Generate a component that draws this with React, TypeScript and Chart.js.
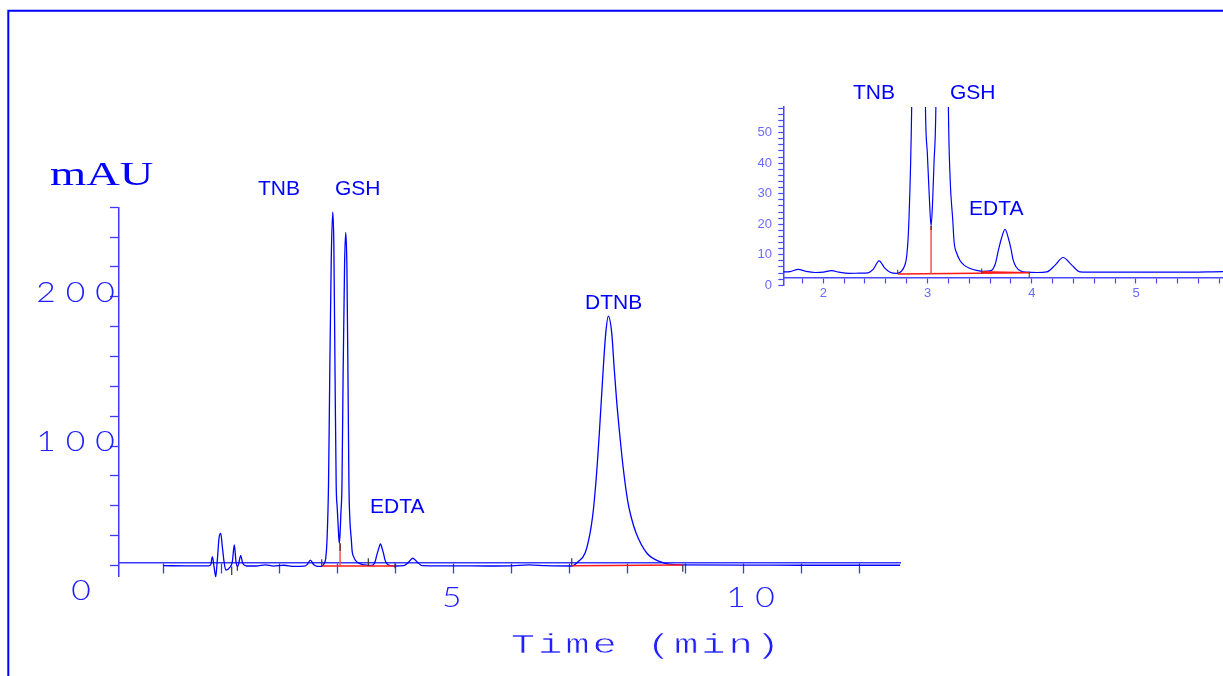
import React, { useEffect, useRef } from 'react';
import { Chart, registerables } from 'chart.js';

Chart.register(...registerables);

// ---------------- Main chromatogram (time in min, signal as on main axis) ----------------
const mainTime = [
  0.0, 0.4, 0.78, 0.817, 0.845, 0.874, 0.903, 0.931, 0.96, 0.99, 1.017, 1.047, 1.076, 1.15,
  1.19, 1.224, 1.253, 1.283, 1.334, 1.369, 1.44, 1.6, 1.76, 1.9, 2.08, 2.25, 2.43, 2.48,
  2.535, 2.59, 2.64, 2.7, 2.75, 2.78, 2.8, 2.82, 2.848, 2.87, 2.895, 2.921, 2.94, 2.96, 2.98,
  2.998, 3.017, 3.034, 3.047, 3.062, 3.08, 3.1, 3.125, 3.145, 3.165, 3.185, 3.2, 3.216, 3.242,
  3.255, 3.28, 3.31, 3.35, 3.41, 3.47, 3.535, 3.6, 3.65, 3.68, 3.71, 3.744, 3.775, 3.8, 3.82,
  3.85, 3.9, 4.0, 4.144, 4.224, 4.3, 4.384, 4.464, 4.6, 5.0, 5.6, 6.0, 6.3, 6.6, 7.04, 7.15,
  7.271, 7.357, 7.4, 7.431, 7.478, 7.517, 7.586, 7.627, 7.672, 7.731, 7.771, 7.814, 7.866,
  7.926, 8.003, 8.064, 8.15, 8.334, 8.564, 8.9, 10.0, 11.0, 12.7,
];
const mainSignal = [
  19.8, 19.7, 19.7, 20.3, 25.9, 19.2, 12.6, 23.6, 38.2, 41.5, 32.6, 22.5, 16.9, 18.8,
  22.5, 33.7, 22.5, 19.2, 26.5, 21.4, 19.6, 19.6, 20.4, 19.5, 20.1, 19.3, 19.5, 20.5,
  23.6, 20.6, 19.5, 19.3, 20.0, 21.8, 24.8, 35.3, 74, 150, 225, 256.9, 235, 150, 74,
  58.7, 44.4, 34.8, 41.4, 55.4, 74, 150, 222, 243.1, 220, 140, 74, 51, 36.8,
  29.6, 25.9, 23.6, 22.0, 20.9, 20.3, 20.0, 20.0, 22.4, 26.9, 30.9, 34.4, 30.9, 27.4, 23.9,
  21.4, 20.0, 19.6, 19.8, 22.0, 24.8, 22.0, 19.8, 19.7, 19.7, 19.6, 19.7, 20.3, 19.8, 19.6, 22.5,
  28.3, 41.7, 52.6, 63.8, 86.1, 108.7, 153.1, 175.5, 187.1, 175.5, 153.1, 130.8, 108.7,
  86.1, 63.8, 52.6, 41.7, 28.3, 22.5, 20.3, 20.2, 20.1, 20.1,
];

// integration baselines (red), drop lines and event marks (main)
const mainBaseTime = [2.731, 3.995, NaN, 7.041, 8.955];
const mainBaseSignal = [19.6, 19.6, NaN, 19.8, 20.2];
const mainDropTime = [3.047, 3.047];
const mainDropSignal = [19.6, 29.5];
const mainDropTopSignal = [29.5, 34.8];
const mainMarkTime = [1.179, 1.276, 2.731, 3.534, 3.995, 7.041, 8.955];
const mainMarkLow = [13.6, 16.5, 19.6, 19.6, 18.1, 19.8, 15.8];
const mainMarkHigh = [19.2, 20.3, 24.1, 24.8, 21.4, 24.8, 20.3];

// ---------------- Inset (zoomed) chromatogram ----------------
const insetTime = [
  1.616, 1.68, 1.76, 1.83, 1.92, 2.0, 2.08, 2.15, 2.25, 2.35, 2.43, 2.48, 2.535, 2.59, 2.64,
  2.7, 2.75, 2.78, 2.8, 2.82, 2.848, 2.87, 2.895, 2.921, 2.94, 2.96, 2.98, 2.998, 3.017, 3.034,
  3.047, 3.062, 3.08, 3.1, 3.125, 3.145, 3.165, 3.185, 3.2, 3.216, 3.242, 3.255, 3.28, 3.31,
  3.35, 3.41, 3.47, 3.535, 3.6, 3.65, 3.68, 3.71, 3.744, 3.775, 3.8, 3.82, 3.85, 3.9, 3.95,
  4.05, 4.144, 4.224, 4.3, 4.384, 4.464, 4.6, 5.0, 5.4, 5.835,
];
const insetSignal = [
  4.4, 4.5, 5.2, 4.6, 4.2, 4.3, 4.8, 4.3, 3.9, 4.0, 4.1, 5.3, 8.0, 5.6, 4.3,
  3.9, 4.6, 6.4, 9.5, 20, 58.6, 135, 210, 241.5, 220, 135, 58.6, 43.3, 29, 19.4,
  26, 40, 58.6, 135, 207, 227.7, 205, 125, 58.6, 35.6, 21.4, 14.2, 10.5, 8.2,
  6.6, 5.5, 4.9, 4.6, 4.7, 7.0, 11.5, 15.5, 18.3, 15.5, 12.0, 8.5, 6.0, 4.6, 4.3,
  4.2, 4.4, 6.6, 9.1, 6.6, 4.4, 4.3, 4.3, 4.3, 4.5,
];
const insetBaseTime = [2.714, 3.976, NaN, 3.52, 3.976];
const insetBaseSignal = [3.7, 4.1, NaN, 4.4, 4.1];
const insetDropTime = [3.034, 3.034];
const insetDropSignal = [3.8, 18.1];
const insetDropTopSignal = [18.1, 19.4];
const insetMarkTime = [2.714, 3.52, 3.976];
const insetMarkLow = [3.7, 3.9, 2.6];
const insetMarkHigh = [5.1, 5.5, 4.5];

// ---------------- Labels ----------------
const mainYLabels = [0, 100, 200];
const mainXLabels = [5, 10];
const insetYLabels = [0, 10, 20, 30, 40, 50];
const insetXLabels = [2, 3, 4, 5];
const peakNames = ['TNB', 'GSH', 'EDTA', 'DTNB'];
const yUnit = 'mAU';
const xTitle = 'Time (min)';

const BLUE = '#0000ff';
const AXIS = '#3a3aff';
const LABEL = '#2020ff';

function pts(t: number[], v: number[]) {
  return t.map((x, i) => ({ x: isNaN(x) ? t[i - 1] : x, y: isNaN(v[i]) ? null : v[i] }));
}
function marks(t: number[], lo: number[], hi: number[]) {
  const out: any[] = [];
  t.forEach((x, i) => {
    out.push({ x, y: lo[i] }, { x, y: hi[i] }, { x, y: null });
  });
  return out;
}

function drawChars(
  ctx: CanvasRenderingContext2D,
  text: string,
  cx0: number,
  baseline: number,
  pitch: number,
  font: string,
  scaleX: number,
  color: string,
  thin = 0,
) {
  ctx.save();
  ctx.font = font;
  ctx.fillStyle = color;
  ctx.textAlign = 'center';
  ctx.textBaseline = 'alphabetic';
  for (let i = 0; i < text.length; i++) {
    if (text[i] === ' ') continue;
    ctx.save();
    ctx.translate(cx0 + i * pitch, baseline);
    ctx.scale(scaleX, 1);
    ctx.fillText(text[i], 0, 0);
    if (thin > 0) {
      ctx.strokeStyle = '#ffffff';
      ctx.lineWidth = thin;
      ctx.lineJoin = 'round';
      ctx.strokeText(text[i], 0, 0);
    }
    ctx.restore();
  }
  ctx.restore();
}

const DIGIT_FONT = '300 28px Lato';
const TITLE_FONT = '28px "Liberation Mono"';

const mainTextPlugin = {
  id: 'mainText',
  afterDraw(chart: any) {
    const ctx: CanvasRenderingContext2D = chart.ctx;
    const xs = chart.scales.x;
    const ys = chart.scales.y;
    // frame
    ctx.save();
    ctx.strokeStyle = BLUE;
    ctx.lineWidth = 2;
    ctx.beginPath();
    ctx.moveTo(8.3, 676);
    ctx.lineTo(8.3, 10.8);
    ctx.lineTo(1223, 10.8);
    ctx.stroke();
    ctx.restore();

    // unit label
    ctx.save();
    ctx.font = '33px "Liberation Serif"';
    ctx.fillStyle = BLUE;
    ctx.translate(50, 185);
    ctx.scale(1.41, 1);
    ctx.textAlign = 'left';
    ctx.fillText(yUnit, 0, 0);
    ctx.restore();

    // y labels
    mainYLabels.forEach((v) => {
      const s = String(v);
      const py = ys.getPixelForValue(v) + 5;
      if (v === 0) {
        drawChars(ctx, s, 81, py, 29.5, DIGIT_FONT, 1.2, LABEL);
      } else {
        drawChars(ctx, s, 105 - (s.length - 1) * 29.5, py, 29.5, DIGIT_FONT, 1.2, LABEL);
      }
    });
    // x labels
    mainXLabels.forEach((v) => {
      const s = String(v);
      const px = xs.getPixelForValue(v);
      const first = s.length === 1 ? px - 1.6 : px - 7.5;
      drawChars(ctx, s, first, 606.7, 29.2, DIGIT_FONT, 1.2, LABEL);
    });
    // axis title
    drawChars(ctx, xTitle, 523, 653.3, 27.2, TITLE_FONT, 1.45, LABEL, 0.6);

    // peak names
    ctx.save();
    ctx.font = '21px "Liberation Sans"';
    ctx.fillStyle = BLUE;
    ctx.textAlign = 'left';
    ctx.fillText(peakNames[0], 258, 195);
    ctx.fillText(peakNames[1], 335, 195);
    ctx.fillText(peakNames[2], 370, 513);
    ctx.fillText(peakNames[3], 585, 309);
    ctx.restore();
  },
};

const insetTextPlugin = {
  id: 'insetText',
  afterDraw(chart: any) {
    const ctx: CanvasRenderingContext2D = chart.ctx;
    const xs = chart.scales.x;
    const ys = chart.scales.y;
    ctx.save();
    ctx.font = '13px "Liberation Sans"';
    ctx.fillStyle = '#6a6aff';
    ctx.textAlign = 'right';
    ctx.textBaseline = 'middle';
    insetYLabels.forEach((v) => ctx.fillText(String(v), 772, ys.getPixelForValue(v)));
    ctx.textAlign = 'center';
    ctx.textBaseline = 'alphabetic';
    insetXLabels.forEach((v) => ctx.fillText(String(v), xs.getPixelForValue(v), 297));
    ctx.font = '21px "Liberation Sans"';
    ctx.fillStyle = BLUE;
    ctx.textAlign = 'left';
    ctx.fillText(peakNames[0], 853, 99);
    ctx.fillText(peakNames[1], 950, 99);
    ctx.fillText(peakNames[2], 969, 215);
    ctx.restore();
  },
};

function lineDs(data: any[], color: string, width: number, order: number, extra: any = {}) {
  return {
    data,
    borderColor: color,
    borderWidth: width,
    pointRadius: 0,
    fill: false,
    spanGaps: false,
    order,
    ...extra,
  };
}

export default function App() {
  const mainRef = useRef<HTMLCanvasElement>(null);
  const insetRef = useRef<HTMLCanvasElement>(null);

  useEffect(() => {
    let main: any = null;
    let inset: any = null;
    let cancelled = false;
    const build = () => {
      if (cancelled) return;
      main = new Chart(mainRef.current!, {
        type: 'line',
        data: {
          datasets: [
            lineDs(pts(mainTime, mainSignal), BLUE, 1.3, 3, { cubicInterpolationMode: 'monotone', clip: false }),
            lineDs(pts(mainBaseTime, mainBaseSignal), '#ff1a1a', 1.5, 2),
            lineDs(pts(mainDropTime, mainDropSignal), '#ff5050', 1.5, 1),
            lineDs(pts(mainDropTime, mainDropTopSignal), '#6a1010', 1.5, 1),
            lineDs(marks(mainMarkTime, mainMarkLow, mainMarkHigh), '#333333', 1.2, 0),
          ] as any,
        },
        options: {
          responsive: false,
          animation: false,
          events: [],
          layout: { padding: { left: 107, right: 323, top: 207.3, bottom: 100 } },
          plugins: { legend: { display: false }, tooltip: { enabled: false }, title: { display: false } },
          scales: {
            x: {
              type: 'linear',
              min: -0.764,
              max: 12.7,
              position: { y: 21.8 } as any,
              ticks: { display: false, stepSize: 1, includeBounds: false },
              grid: { drawOnChartArea: false, drawTicks: true, tickLength: 10, tickColor: AXIS, tickWidth: 1.3 },
              border: { display: true, color: AXIS, width: 1.5 },
            },
            y: {
              type: 'linear',
              min: 12.9,
              max: 260,
              position: 'left',
              ticks: { display: false, stepSize: 20, includeBounds: false },
              grid: { drawOnChartArea: false, drawTicks: true, tickLength: 9, tickColor: AXIS, tickWidth: 1.3 },
              border: { display: true, color: AXIS, width: 1.5 },
              afterFit: (s: any) => {
                s.width = 12;
              },
            },
          },
        } as any,
        plugins: [mainTextPlugin],
      });

      inset = new Chart(insetRef.current!, {
        type: 'line',
        data: {
          datasets: [
            lineDs(pts(insetTime, insetSignal), BLUE, 1.2, 3, { cubicInterpolationMode: 'monotone' }),
            lineDs(pts(insetBaseTime, insetBaseSignal), '#ff1a1a', 1.5, 2),
            lineDs(pts(insetDropTime, insetDropSignal), '#ff5050', 1.5, 1),
            lineDs(pts(insetDropTime, insetDropTopSignal), '#6a1010', 1.5, 1),
            lineDs(marks(insetMarkTime, insetMarkLow, insetMarkHigh), '#333333', 1, 0),
          ] as any,
        },
        options: {
          responsive: false,
          animation: false,
          events: [],
          layout: { padding: { left: 777.3, right: 0, top: 107, bottom: 390.7 } },
          plugins: { legend: { display: false }, tooltip: { enabled: false }, title: { display: false } },
          scales: {
            x: {
              type: 'linear',
              min: 1.6162,
              max: 5.8347,
              position: { y: 2.5 } as any,
              ticks: { display: false, stepSize: 0.2, includeBounds: false },
              grid: { drawOnChartArea: false, drawTicks: true, tickLength: 5, tickColor: '#4848ff', tickWidth: 1.2 },
              border: { display: true, color: '#4848ff', width: 1.5 },
            },
            y: {
              type: 'linear',
              min: 0,
              max: 58.4,
              position: 'left',
              ticks: { display: false, stepSize: 2, includeBounds: false },
              grid: { drawOnChartArea: false, drawTicks: true, tickLength: 5, tickColor: '#4848ff', tickWidth: 1.2 },
              border: { display: true, color: '#4848ff', width: 1.5 },
              afterFit: (s: any) => {
                s.width = 6;
              },
            },
          },
        } as any,
        plugins: [insetTextPlugin],
      });
    };
    const fontsReady = (document as any).fonts;
    if (fontsReady && fontsReady.load) {
      Promise.all([fontsReady.load(DIGIT_FONT), fontsReady.load(TITLE_FONT)])
        .catch(() => null)
        .then(build);
    } else {
      build();
    }

    return () => {
      cancelled = true;
      if (main) main.destroy();
      if (inset) inset.destroy();
    };
  }, []);

  return (
    <div style={{ position: 'fixed', left: 0, top: 0, width: 1223, height: 676, background: '#ffffff', overflow: 'hidden' }}>
      <canvas ref={mainRef} width={1223} height={676} style={{ position: 'absolute', left: 0, top: 0, width: 1223, height: 676 }} />
      <canvas ref={insetRef} width={1223} height={676} style={{ position: 'absolute', left: 0, top: 0, width: 1223, height: 676 }} />
    </div>
  );
}
